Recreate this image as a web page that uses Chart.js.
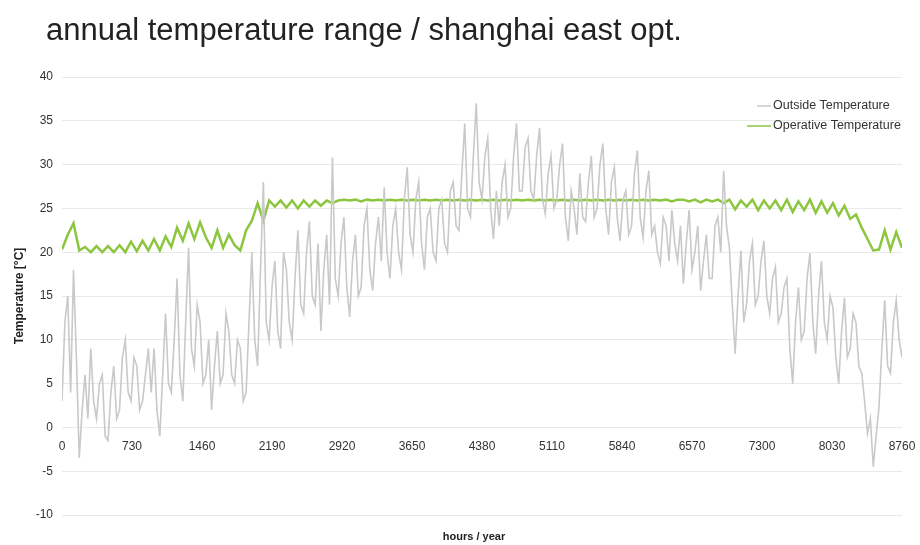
<!DOCTYPE html>
<html lang="en">
<head>
    <meta charset="UTF-8">
    <title>annual temperature range / shanghai east opt.</title>
    <script src="https://cdn.jsdelivr.net/npm/chart.js"></script>
    <style>
        body { margin: 0; background: #fff; }
        .wrap { width: 920px; height: 545px; position: relative; }
    </style>
</head>
<body>
    <div class="wrap"><canvas id="tempChart"></canvas></div>

    <script>
        const outsideStep = 30;
        const operativeStep = 60;
        const yTicks = [-10, -5, 0, 5, 10, 15, 20, 25, 30, 35, 40];
        const xTicks = [0, 730, 1460, 2190, 2920, 3650, 4380, 5110, 5840, 6570, 7300, 8030, 8760];

        const outsideTemp = [
            3, 12, 15, 4, 18, 8, -3.5, 2, 6, 1, 9, 3, 1, 5, 6, -1, -1.5, 4, 7, 1, 2, 8, 10, 4,
            3, 8, 7, 2, 3, 6, 9, 4, 9, 2, -1, 6, 13, 5, 4, 10, 17, 6, 3, 12, 20.5, 9, 7, 14,
            12, 5, 6, 10, 2, 7, 11, 5, 6, 13, 11, 6, 5, 10, 9, 3, 4, 12, 20, 10, 7, 18, 28, 12,
            10, 16, 19, 11, 9, 20, 18, 12, 10, 17, 22.5, 14, 13, 20, 23.5, 15, 14, 21, 11, 18, 22, 14, 30.8, 17,
            15, 21, 24, 16, 12.6, 19, 22, 15, 16, 23, 25, 18, 15.6, 21, 24, 19, 27.4, 20, 17, 23, 25, 20, 18, 26,
            29.7, 22, 20, 26, 28, 21, 18, 24, 25, 20, 19, 25, 26, 21, 20, 27, 28, 23, 22.5, 29, 34.7, 25, 24, 31,
            37, 28, 26, 31, 33, 25, 21.5, 27, 23, 28, 30, 24, 25, 31, 34.7, 27, 27, 32, 33, 27, 26, 31, 34.2, 26,
            24.4, 29, 31, 25, 26, 30, 32.4, 24, 21.3, 27, 25, 22, 29, 24, 23.5, 28, 31, 24, 25, 30, 32.4, 25, 22, 28,
            29.7, 24, 21.3, 26, 27, 22, 23, 29, 31.6, 24, 21.7, 27, 29.3, 22, 23, 20, 18.7, 24, 23, 19, 24.8, 21, 19, 23,
            16.4, 21, 24.8, 18, 20, 23, 15.6, 19, 22, 17, 17, 23, 24, 20, 29.3, 23, 20.5, 14, 8.4, 15, 20.2, 12, 14.2, 19,
            21, 14, 15, 19, 21.3, 15, 13, 17, 18.3, 12, 13, 16, 17, 9, 5, 12, 16, 10, 11, 17, 19.9, 12, 8.4, 15,
            19, 12, 10, 15, 13.7, 8, 5, 11, 14.8, 8, 9, 13, 12, 7, 6.2, 3, -0.7, 1, -4.5, -1, 2.3, 9, 14.5, 7,
            6.2, 12, 14.5, 10, 8
        ];

        const operativeTemp = [
            20.3, 22, 23.3, 20.2, 20.6, 20, 20.7, 20, 20.7, 20, 20.8, 20,
            21.2, 20.1, 21.3, 20.2, 21.5, 20.2, 21.8, 20.6, 22.8, 21.3, 23.3, 21.5,
            23.4, 21.7, 20.5, 22.5, 20.5, 22, 20.8, 20.2, 22.5, 23.6, 25.6, 23.6,
            25.9, 25.2, 25.9, 25.1, 25.9, 25, 25.9, 25.2, 25.9, 25.3, 25.9, 25.6,
            25.9, 26, 25.9, 26, 25.8, 26, 25.9, 26, 25.9, 26, 25.9, 26,
            25.9, 26, 25.9, 26, 25.9, 26, 25.9, 26, 25.9, 26, 25.9, 26,
            25.9, 26, 25.9, 26, 25.9, 26, 25.9, 26, 25.9, 26, 25.9, 26,
            25.9, 26, 25.9, 26, 25.9, 26, 25.9, 26, 25.9, 26, 25.9, 26,
            25.9, 26, 25.9, 26, 25.9, 26, 25.9, 26, 25.9, 26, 25.8, 26,
            26, 25.8, 26, 25.7, 26, 25.8, 26, 25.6, 26, 24.9, 25.9, 25.2,
            26, 24.8, 25.9, 25, 25.9, 24.8, 26, 24.6, 25.8, 24.8, 26, 24.5,
            25.8, 24.5, 25.6, 24.2, 25.3, 23.8, 24.3, 22.8, 21.5, 20.2, 20.3, 22.5,
            20.3, 22.3, 20.5
        ];

        const toPoints = (vals, step) => vals.map((v, i) => ({ x: i * step, y: v }));
        const FONT = '"Liberation Sans", Arial, sans-serif';

        // title, x axis title and legend drawn by hand
        const extras = {
            id: 'extras',
            afterDraw(chart) {
                const ctx = chart.ctx;
                ctx.save();
                ctx.fillStyle = '#222';
                ctx.textBaseline = 'alphabetic';
                ctx.textAlign = 'left';
                ctx.font = '31px ' + FONT;
                ctx.fillText('annual temperature range / shanghai east opt.', 46, 40);

                ctx.font = 'bold 11px ' + FONT;
                ctx.textAlign = 'center';
                ctx.textBaseline = 'middle';
                ctx.fillText('hours / year', 474, 537);

                ctx.font = '12.5px ' + FONT;
                ctx.textAlign = 'left';
                const rows = [
                    { ds: chart.data.datasets[0], y: 106, x0: 757 },
                    { ds: chart.data.datasets[1], y: 126, x0: 747 }
                ];
                rows.forEach(r => {
                    ctx.strokeStyle = r.ds.borderColor;
                    ctx.lineWidth = 1.5;
                    ctx.beginPath();
                    ctx.moveTo(r.x0, r.y);
                    ctx.lineTo(771, r.y);
                    ctx.stroke();
                    ctx.fillStyle = '#333';
                    ctx.fillText(r.ds.label, 773, r.y);
                });
                ctx.restore();
            }
        };

        const ctx = document.getElementById('tempChart').getContext('2d');
        new Chart(ctx, {
            type: 'line',
            data: {
                datasets: [
                    { label: 'Outside Temperature', data: toPoints(outsideTemp, outsideStep), borderColor: '#c9c9c9', borderWidth: 1.6, pointRadius: 0, tension: 0 },
                    { label: 'Operative Temperature', data: toPoints(operativeTemp, operativeStep), borderColor: '#8cc63f', borderWidth: 2.5, pointRadius: 0, tension: 0 }
                ]
            },
            options: {
                responsive: true,
                maintainAspectRatio: false,
                animation: false,
                layout: { padding: { top: 77, left: 8, right: 18, bottom: 30 } },
                plugins: { legend: { display: false }, title: { display: false }, tooltip: { enabled: false } },
                scales: {
                    x: {
                        type: 'linear',
                        position: { y: 0 },
                        min: 0, max: 8760,
                        afterBuildTicks: s => { s.ticks = xTicks.map(v => ({ value: v })); },
                        // let the last label hang over the edge, as in the original
                        afterFit: s => { s.paddingLeft = 0; s.paddingRight = 0; },
                        ticks: { color: '#333', font: { size: 12, family: FONT }, padding: 12, maxRotation: 0, callback: v => String(v) },
                        grid: { display: false, drawTicks: false },
                        border: { display: false }
                    },
                    y: {
                        min: -10, max: 40,
                        afterBuildTicks: s => { s.ticks = yTicks.map(v => ({ value: v })); },
                        afterFit: s => { s.width = 54; },
                        ticks: { color: '#333', font: { size: 12, family: FONT }, padding: 9 },
                        grid: { color: '#e9e9e9', drawTicks: false },
                        border: { display: false },
                        title: { display: true, text: 'Temperature [°C]', color: '#222', font: { size: 12, weight: 'bold', family: FONT }, padding: { top: 4, bottom: 0 } }
                    }
                }
            },
            plugins: [extras]
        });
    </script>
</body>
</html>
